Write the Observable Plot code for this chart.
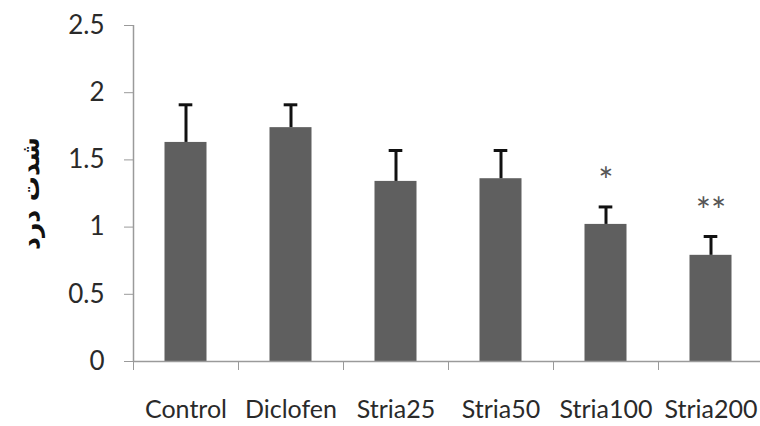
<!DOCTYPE html>
<html>
<head>
<meta charset="utf-8">
<script src="https://cdn.jsdelivr.net/npm/d3@7"></script>
<script src="https://cdn.jsdelivr.net/npm/@observablehq/plot@0.6"></script>
<style>
  html, body { margin: 0; padding: 0; background: #fff; }
  svg { font-family: Lato, "Open Sans", sans-serif; }
  g[aria-label="y-axis label"] text { font-family: "DejaVu Sans", sans-serif; font-weight: bold; font-size: 25px; fill: #111; }
</style>
</head>
<body>
<div id="chart"></div>
<script>
const categories = ["Control", "Diclofen", "Stria25", "Stria50", "Stria100", "Stria200"];
const means = [1.63, 1.74, 1.34, 1.36, 1.02, 0.79];
const errors = [0.28, 0.17, 0.23, 0.21, 0.13, 0.14];
const significance = ["", "", "", "", "*", "**"];
const yTicks = [0, 0.5, 1, 1.5, 2, 2.5];
const yLabel = "شدت درد";

const data = categories.map((c, i) => ({i, c, v: means[i], e: errors[i], s: significance[i]}));
const boundaries = d3.range(categories.length + 1);
const centers = categories.map((c, i) => i + 0.5);

const axisColor = "#9a9a9a";

const plot = Plot.plot({
  width: 760,
  height: 426,
  marginLeft: 133,
  marginRight: 0,
  marginTop: 25,
  marginBottom: 65,
  style: {background: "#fff", color: "#2a2a2a"},
  x: {domain: [0, categories.length], range: [133, 763]},
  y: {domain: [0, 2.5]},
  marks: [
    Plot.rectY(data, {x1: d => d.i + 0.3, x2: d => d.i + 0.7, y1: 0, y2: "v", fill: "#5f5f5f"}),
    Plot.ruleX(data, {x: d => d.i + 0.5, y1: "v", y2: d => d.v + d.e, stroke: "#111", strokeWidth: 3}),
    Plot.ruleY(data, {x1: d => d.i + 0.5 - 0.065, x2: d => d.i + 0.5 + 0.065, y: d => d.v + d.e, stroke: "#111", strokeWidth: 3}),
    Plot.text(data, {x: d => d.i + 0.5, y: d => d.v + d.e, text: "s", dy: -24, fontSize: 36, fill: "#555", lineAnchor: "middle"}),
    Plot.ruleX([0], {stroke: axisColor, strokeWidth: 1.5}),
    Plot.ruleY([0], {stroke: axisColor, strokeWidth: 1.5}),
    Plot.axisY({ticks: yTicks, tickSize: 9, tickPadding: 20, tickFormat: d => String(d), fontSize: 26, stroke: axisColor,
      label: yLabel, labelAnchor: "center", labelArrow: "none", labelOffset: 112}),
    Plot.axisX({ticks: boundaries, tickSize: 9, tickFormat: () => "", stroke: axisColor, label: null}),
    Plot.axisX({ticks: centers, tickSize: 0, tickPadding: 39, tickFormat: d => categories[Math.floor(d)], fontSize: 25, label: null})
  ]
});
document.getElementById("chart").appendChild(plot);
</script>
</body>
</html>
